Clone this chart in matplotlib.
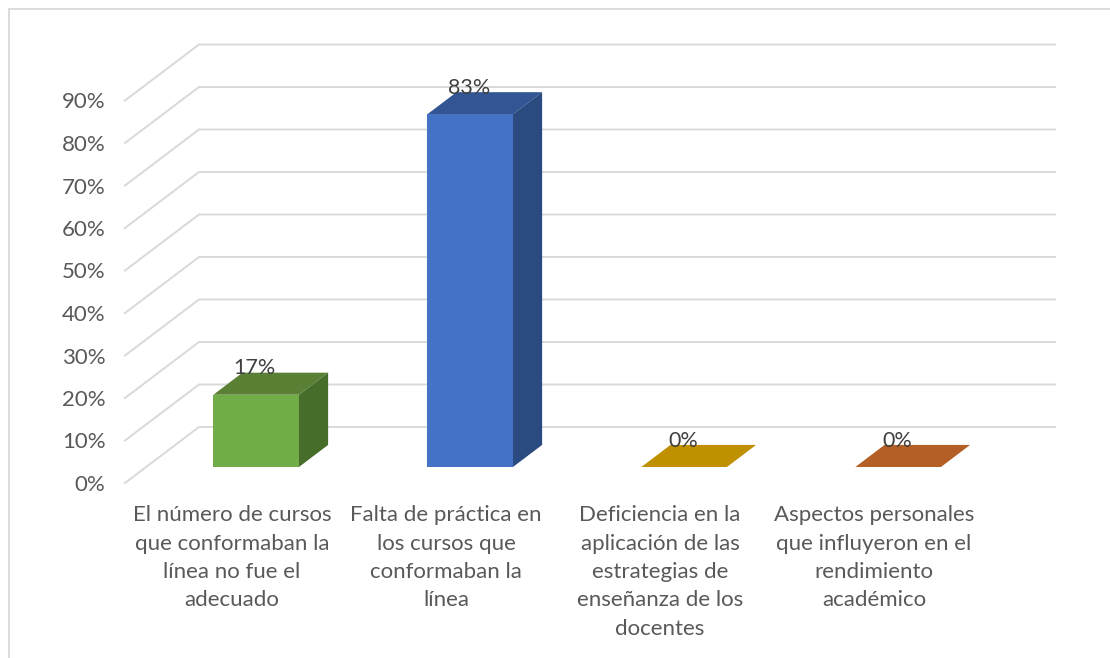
#!/usr/bin/env python3
# -*- coding: utf-8 -*-
import matplotlib
matplotlib.use('Agg')
import matplotlib.pyplot as plt
from matplotlib.lines import Line2D
from matplotlib.patches import Polygon

plt.rcParams['font.family'] = ['Lato', 'DejaVu Sans']

categories = [
    'El número de cursos\nque conformaban la\nlínea no fue el\nadecuado',
    'Falta de práctica en\nlos cursos que\nconformaban la\nlínea',
    'Deficiencia en la\naplicación de las\nestrategias de\nenseñanza de los\ndocentes',
    'Aspectos personales\nque influyeron en el\nrendimiento\nacadémico',
]
values = [17, 83, 0, 0]
y_ticks = [0, 10, 20, 30, 40, 50, 60, 70, 80, 90]
front_colors = ['#70AD47', '#4472C4', '#FFC000', '#ED7D31']
top_colors = ['#5A8035', '#335593', '#BF9000', '#B45F25']
side_colors = ['#476D2A', '#2A4A80', '#997300', '#974F1E']

W, H = 1110, 658
GREY = '#595959'
GRID = '#D9D9D9'

# profundidad del piso 3D en unidades de datos
DEPTH_X = 74 / 214
DEPTH_Y = 56 / 4.25
BAR_W = 0.40
BAR_SHIFT = 0.014
D0, D1 = 0.286, 0.68


def proj(x, y, d):
    return (x + d * DEPTH_X, y + d * DEPTH_Y)


fig = plt.figure(figsize=(W / 100, H / 100), dpi=100)
fig.patch.set_facecolor('white')

# marco del grafico: solo arriba y a la izquierda
fig.add_artist(Line2D([8.5 / W, 8.5 / W, 1], [0, 1 - 8.5 / H, 1 - 8.5 / H],
                      transform=fig.transFigure, color=GRID, lw=1.3,
                      solid_joinstyle='miter'))

# plano frontal: x 125-981 px, y 0% = 483 px, 90% = 100.5 px
ax = fig.add_axes([125 / W, 1 - 483 / H, 856 / W, 382.5 / H])
ax.set_xlim(-0.5, 3.5)
ax.set_ylim(0, 90)
ax.patch.set_alpha(0)
for s in ax.spines.values():
    s.set_visible(False)

for t in y_ticks:
    x0, y0 = proj(-0.5, t, 0)
    x1, y1 = proj(-0.5, t, 1)
    x2, y2 = proj(3.5, t, 1)
    ax.plot([x0, x1, x2], [y0, y1, y2], color=GRID, lw=1.4, clip_on=False,
            solid_joinstyle='miter', zorder=1)

for i, v in enumerate(values):
    xc = i + BAR_SHIFT
    xl, xr = xc - BAR_W / 2, xc + BAR_W / 2
    top = [proj(xl, v, D0), proj(xr, v, D0), proj(xr, v, D1), proj(xl, v, D1)]
    ax.add_patch(Polygon(top, closed=True, facecolor=top_colors[i],
                         edgecolor='none', clip_on=False, zorder=3))
    if v > 0:
        side = [proj(xr, 0, D0), proj(xr, v, D0), proj(xr, v, D1), proj(xr, 0, D1)]
        front = [proj(xl, 0, D0), proj(xr, 0, D0), proj(xr, v, D0), proj(xl, v, D0)]
        ax.add_patch(Polygon(side, closed=True, facecolor=side_colors[i],
                             edgecolor='none', clip_on=False, zorder=3))
        ax.add_patch(Polygon(front, closed=True, facecolor=front_colors[i],
                             edgecolor='none', clip_on=False, zorder=4))
    ax.annotate(f'{v}%', xy=proj(xc, v, D0), xytext=(-1, 19), textcoords='offset points',
                ha='center', va='center', fontsize=15.5, color='#404040',
                annotation_clip=False, zorder=5)

ax.set_yticks(y_ticks)
ax.set_yticklabels([f'{t}%' for t in y_ticks], fontsize=16, color=GREY)
ax.set_xticks(range(len(categories)))
ax.set_xticklabels(categories, fontsize=16, color=GREY, linespacing=1.52, ha='center', va='top')
ax.tick_params(axis='both', length=0)
ax.tick_params(axis='x', pad=16)
ax.tick_params(axis='y', pad=14)

fig.savefig('out.png', dpi=100)
